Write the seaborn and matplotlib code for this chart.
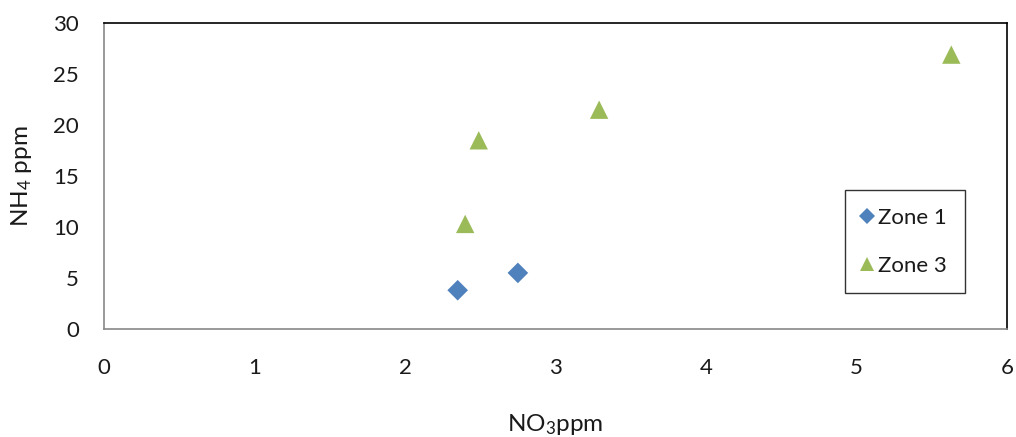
import matplotlib
matplotlib.use("Agg")
import matplotlib.pyplot as plt
import seaborn as sns
import pandas as pd

zone1_x = [2.35, 2.75]
zone1_y = [3.8, 5.5]
zone3_x = [2.40, 2.49, 3.29, 5.63]
zone3_y = [10.3, 18.5, 21.5, 26.9]
series_names = ["Zone 1", "Zone 3"]
x_ticks = [0, 1, 2, 3, 4, 5, 6]
y_ticks = [0, 5, 10, 15, 20, 25, 30]

df = pd.DataFrame({
    "x": zone1_x + zone3_x,
    "y": zone1_y + zone3_y,
    "zone": [series_names[0]] * len(zone1_x) + [series_names[1]] * len(zone3_x),
})

sns.set_style("white")
plt.rcParams["font.family"] = ["Lato", "DejaVu Sans"]
plt.rcParams["mathtext.fontset"] = "custom"
plt.rcParams["mathtext.rm"] = "Lato"
plt.rcParams["mathtext.it"] = "Lato"

FS = 16
LFS = 17.5
TXT = "#1a1a1a"

fig = plt.figure(figsize=(10.16, 4.37), dpi=100)
ax = fig.add_axes([104/1016, 108/437, 903/1016, 306/437])

sns.scatterplot(data=df, x="x", y="y", hue="zone", style="zone", size="zone",
                palette={"Zone 1": "#4F81BD", "Zone 3": "#9BBB59"},
                markers={"Zone 1": "D", "Zone 3": "^"},
                sizes={"Zone 1": 110, "Zone 3": 175},
                linewidth=0, ax=ax, legend=True)

ax.set_xlim(0, 6)
ax.set_ylim(0, 30)
ax.set_xticks(x_ticks)
ax.set_yticks(y_ticks)
ax.tick_params(direction="in", length=6.5, width=1, color="#888888",
               labelsize=FS, colors=TXT)
ax.tick_params(axis="y", pad=18)
ax.tick_params(axis="x", pad=21)
for side in ["left", "bottom"]:
    ax.spines[side].set_color("#888888")
    ax.spines[side].set_linewidth(1.2)
for side in ["top", "right"]:
    ax.spines[side].set_color("#000000")
    ax.spines[side].set_linewidth(1.2)

ax.set_xlabel("NO$_3$ppm", fontsize=LFS, color=TXT)
ax.set_ylabel("NH$_4$ ppm", fontsize=LFS, color=TXT)
ax.xaxis.set_label_coords(0.5, -0.272)
ax.yaxis.set_label_coords(-0.077, 0.5)

handles, labels = ax.get_legend_handles_labels()
leg = ax.legend(handles, labels, loc="upper left",
                bbox_to_anchor=((845 - 104) / 903, (329 - 190) / 306),
                borderaxespad=0.0,
                frameon=True, fancybox=False, edgecolor="black", fontsize=FS,
                handlelength=0.4, handletextpad=0.3, labelspacing=1.25,
                borderpad=0.8, markerscale=0.8)
leg.get_frame().set_linewidth(1.0)
for t in leg.get_texts():
    t.set_color(TXT)

fig.savefig("out.png", dpi=100)
